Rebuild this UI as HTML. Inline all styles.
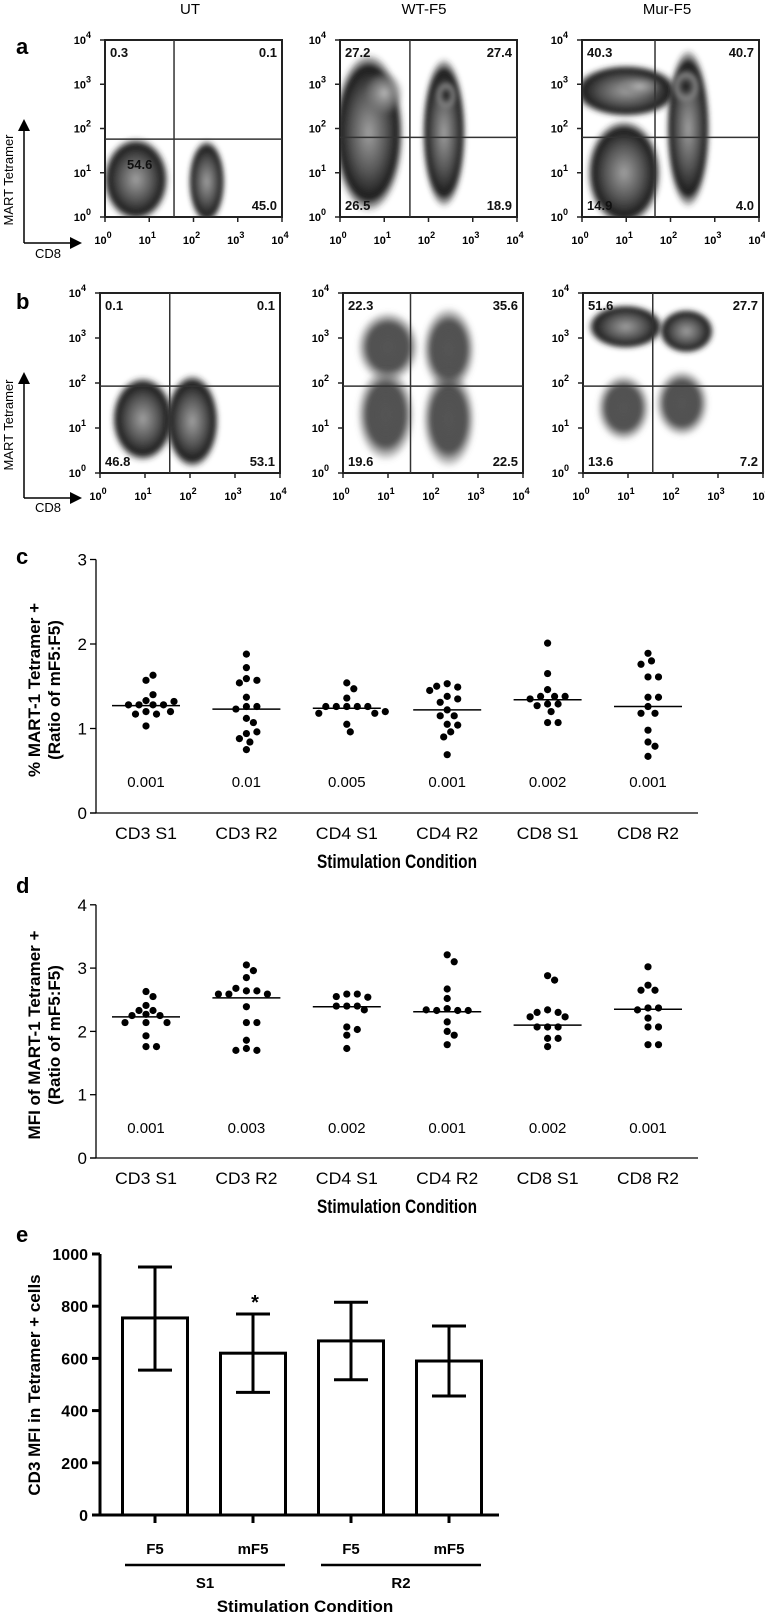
<!DOCTYPE html>
<html><head><meta charset="utf-8"><style>
html,body{margin:0;padding:0;background:#fff}
svg{display:block}
text{font-family:"Liberation Sans",Arial,sans-serif}
</style></head><body>
<svg id="fig" xmlns="http://www.w3.org/2000/svg" width="765" height="1619" viewBox="0 0 765 1619">
<defs>
<filter id="blur" x="-50%" y="-50%" width="200%" height="200%"><feGaussianBlur stdDeviation="2.5"/></filter>
<radialGradient id="gBlob"><stop offset="0" stop-color="#a0a0a0"/><stop offset="0.5" stop-color="#555"/><stop offset="0.82" stop-color="#1a1a1a"/><stop offset="1" stop-color="#333" stop-opacity="0"/></radialGradient>
<radialGradient id="gCore"><stop offset="0" stop-color="#111"/><stop offset="0.4" stop-color="#444"/><stop offset="0.7" stop-color="#888"/><stop offset="1" stop-color="#888" stop-opacity="0"/></radialGradient>
<radialGradient id="gLight"><stop offset="0" stop-color="#bbb"/><stop offset="0.6" stop-color="#888" stop-opacity="0.7"/><stop offset="1" stop-color="#888" stop-opacity="0"/></radialGradient>
<radialGradient id="gDiffuse"><stop offset="0" stop-color="#555"/><stop offset="0.65" stop-color="#333" stop-opacity="0.85"/><stop offset="1" stop-color="#666" stop-opacity="0"/></radialGradient>
</defs>
<g id="flow"></g>
<g id="pc"></g>
<g id="pd"></g>
<g id="pe"></g>
</svg>
<script>
// ---------- data ----------
const flowColumns = ["UT","WT-F5","Mur-F5"];
const flowQuadA = [["0.3","0.1","54.6","45.0"],["27.2","27.4","26.5","18.9"],["40.3","40.7","14.9","4.0"]];
const flowQuadB = [["0.1","0.1","46.8","53.1"],["22.3","35.6","19.6","22.5"],["51.6","27.7","13.6","7.2"]];
const gateA = [[1.56,1.76],[1.58,1.8],[1.65,1.8]];
const gateB = [[1.55,1.93],[1.5,1.93],[1.55,1.93]];
// blobs: [xDecade, yDecade, rx, ry, type]
const blobsA = [
 [[0.7,0.85,0.75,0.95,"gBlob"],[2.3,0.8,0.42,0.95,"gBlob"]],
 [[0.65,1.9,0.8,1.8,"gBlob"],[1.0,2.8,0.45,0.5,"gLight"],[2.35,1.9,0.5,1.7,"gBlob"],[2.4,2.75,0.24,0.32,"gCore"]],
 [[1.0,2.85,1.2,0.6,"gBlob"],[1.3,2.95,0.5,0.22,"gLight"],[0.95,1.0,0.85,1.2,"gBlob"],[2.4,2.0,0.5,1.8,"gBlob"],[2.35,2.95,0.32,0.38,"gCore"]]
];
const blobsB = [
 [[0.95,1.2,0.7,0.95,"gBlob"],[2.05,1.15,0.6,1.05,"gBlob"]],
 [[1.0,2.8,0.7,0.8,"gDiffuse"],[0.95,1.3,0.65,1.05,"gDiffuse"],[2.35,2.75,0.6,0.95,"gDiffuse"],[2.35,1.2,0.6,1.1,"gDiffuse"]],
 [[0.95,3.25,0.85,0.5,"gBlob"],[2.3,3.15,0.62,0.5,"gBlob"],[0.9,1.45,0.6,0.75,"gDiffuse"],[2.2,1.55,0.6,0.75,"gDiffuse"]]
];

const catLabels = ["CD3 S1","CD3 R2","CD4 S1","CD4 R2","CD8 S1","CD8 R2"];
const cTicks = [0,1,2,3];
const cPvals = ["0.001","0.01","0.005","0.001","0.002","0.001"];
const cMedians = [1.27,1.23,1.24,1.22,1.34,1.26];
const cCD3S1 = [1.33,1.28,1.28,1.40,1.28,1.28,1.32,1.20,1.17,1.17,1.20,1.57,1.63,1.03];
const cCD3R2 = [1.88,1.72,1.59,1.57,1.54,1.37,1.26,1.26,1.23,1.12,1.07,0.94,0.96,0.88,0.84,0.75];
const cCD4S1 = [1.54,1.47,1.36,1.26,1.26,1.26,1.26,1.26,1.18,1.18,1.20,1.05,0.96];
const cCD4R2 = [1.53,1.49,1.50,1.45,1.38,1.35,1.31,1.22,1.15,1.15,1.05,1.04,0.96,0.90,0.69];
const cCD8S1 = [2.01,1.65,1.46,1.38,1.38,1.38,1.35,1.29,1.29,1.27,1.20,1.07,1.07];
const cCD8R2 = [1.89,1.80,1.76,1.61,1.61,1.37,1.37,1.26,1.18,1.18,0.98,0.84,0.79,0.67];

const dTicks = [0,1,2,3,4];
const dPvals = ["0.001","0.003","0.002","0.001","0.002","0.001"];
const dMedians = [2.23,2.53,2.39,2.31,2.10,2.35];
const dCD3S1 = [2.63,2.55,2.41,2.33,2.33,2.27,2.25,2.25,2.14,2.14,2.14,1.93,1.76,1.76];
const dCD3R2 = [3.05,2.96,2.85,2.64,2.64,2.68,2.59,2.59,2.59,2.39,2.14,2.14,1.86,1.73,1.70,1.70];
const dCD4S1 = [2.59,2.59,2.55,2.54,2.40,2.40,2.40,2.34,2.07,2.03,1.94,1.73];
const dCD4R2 = [3.21,3.10,2.67,2.52,2.36,2.33,2.33,2.33,2.34,2.15,2.00,1.94,1.79];
const dCD8S1 = [2.88,2.81,2.34,2.30,2.30,2.23,2.23,2.07,2.07,2.07,1.89,1.89,1.76];
const dCD8R2 = [3.02,2.73,2.65,2.65,2.37,2.37,2.34,2.21,2.07,2.07,1.79,1.79];

const eLabels = ["F5","mF5","F5","mF5"];
const eGroups = ["S1","R2"];
const eMeans = [755,620,667,590];
const eUpper = [950,770,815,724];
const eLower = [555,470,518,456];
const eTicks = [0,200,400,600,800,1000];
const eStars = ["","*","",""];

// ---------- helpers ----------
const NS="http://www.w3.org/2000/svg";
function mk(tag,attrs,parent,txt){const e=document.createElementNS(NS,tag);for(const k in attrs)e.setAttribute(k,attrs[k]);if(txt!==undefined)e.textContent=txt;parent.appendChild(e);return e;}

// ---------- flow panels ----------
const flow=document.getElementById('flow');
function flowPlot(x0,y0,size,quads,gate,blobs,name){
  const g=mk('g',{},flow);
  
  
  const dec=size/4;
  const sx=v=>x0+v*dec, sy=v=>y0+size-v*dec;
  const clipId='clip'+name;
  const cp=mk('clipPath',{id:clipId},g);
  mk('rect',{x:x0,y:y0,width:size,height:size},cp);
  const bg=mk('g',{'clip-path':'url(#'+clipId+')'},g);
  blobs.forEach(b=>{
    const el=mk('ellipse',{cx:sx(b[0]),cy:sy(b[1]),rx:b[2]*dec,ry:b[3]*dec,fill:'url(#'+b[4]+')',filter:'url(#blur)'},bg);
    
    
  });
  const box=mk('rect',{x:x0,y:y0,width:size,height:size,fill:'none',stroke:'#222','stroke-width':2},g);
  
  
  const vl=mk('line',{x1:sx(gate[0]),x2:sx(gate[0]),y1:y0,y2:y0+size,stroke:'#333','stroke-width':1.5},g);
  
  
  const hl=mk('line',{x1:x0,x2:x0+size,y1:sy(gate[1]),y2:sy(gate[1]),stroke:'#333','stroke-width':1.5},g);
  
  
  for(let i=0;i<=4;i++){
    mk('line',{x1:sx(i),x2:sx(i),y1:y0+size,y2:y0+size+5,stroke:'#222','stroke-width':1.5},g);
    mk('line',{x1:x0-5,x2:x0,y1:sy(i),y2:sy(i),stroke:'#222','stroke-width':1.5},g);
    const xt=mk('text',{x:sx(i)-2,y:y0+size+27,'font-size':11,'font-weight':'bold','text-anchor':'middle'},g,'10');
    mk('tspan',{dy:-6,'font-size':9},xt,String(i));
    
    
    const yt=mk('text',{x:x0-14,y:sy(i)+4,'font-size':11,'font-weight':'bold','text-anchor':'end'},g,'10');
    mk('tspan',{dy:-6,'font-size':9},yt,String(i));
    
    
  }
  const pos=[[x0+5,y0+17,'start'],[x0+size-5,y0+17,'end'],[x0+5,y0+size-7,'start'],[x0+size-5,y0+size-7,'end']];
  quads.forEach((q,i)=>{
    const t=mk('text',{x:pos[i][0],y:pos[i][1],'font-size':13,'font-weight':'bold','text-anchor':pos[i][2],fill:'#111'},g,q);
    if(i===2&&name.indexOf('a-UT')>=0){t.setAttribute('x',x0+22);t.setAttribute('y',y0+size-48);}
    
    
  });
}
const colXA=[105,340,582], colXB=[100,343,583];
flowColumns.forEach((c,i)=>{
  const t=mk('text',{x:[190,424,667][i],y:14,'font-size':15,'text-anchor':'middle'},flow,c);
  
  
  flowPlot(colXA[i],40,177,flowQuadA[i],gateA[i],blobsA[i],'flow-plot-a-'+c);
  flowPlot(colXB[i],293,180,flowQuadB[i],gateB[i],blobsB[i],'flow-plot-b-'+c);
});
function axisArrow(yTop,yBot,labelY,cd8Y){
  mk('line',{x1:24,x2:24,y1:yTop+8,y2:yBot,stroke:'#000','stroke-width':1.5},flow);
  mk('polygon',{points:`18,${yTop+10} 30,${yTop+10} 24,${yTop-2}`,fill:'#000'},flow);
  mk('line',{x1:24,x2:72,y1:yBot,y2:yBot,stroke:'#000','stroke-width':1.5},flow);
  mk('polygon',{points:`70,${yBot-6} 70,${yBot+6} 82,${yBot}`,fill:'#000'},flow);
  const mt=mk('text',{x:0,y:0,'font-size':13,'text-anchor':'middle',transform:`translate(13,${labelY}) rotate(-90)`},flow,'MART Tetramer');
  
  
  const ct=mk('text',{x:48,y:cd8Y,'font-size':13,'text-anchor':'middle'},flow,'CD8');
  
  
}
axisArrow(121,243,180,258);
axisArrow(374,498,425,512);
[['a',45],['b',300],['c',555],['d',884],['e',1233]].forEach(p=>{
  const t=mk('text',{x:16,y:p[1]+9,'font-size':22,'font-weight':'bold'},document.getElementById('fig'),p[0]);
  
  
});

// ---------- dot plots ----------
function dotPlot(gid,y0,unit,ticks,series,medians,pvals,pY,title1,title2,titleY){
  const g=document.getElementById(gid);
  const ax=96, axEnd=698;
  const sy=v=>y0-v*unit;
  const cx=i=>146+i*100.4;
  const yl=mk('line',{x1:ax,x2:ax,y1:sy(ticks[ticks.length-1]),y2:y0,stroke:'#000','stroke-width':1.3},g);
  
  
  const xl=mk('line',{x1:ax-6,x2:axEnd,y1:y0,y2:y0,stroke:'#000','stroke-width':1.3},g);
  
  
  ticks.forEach(t=>{
    mk('line',{x1:ax-6,x2:ax,y1:sy(t),y2:sy(t),stroke:'#000','stroke-width':1.3},g);
    const tl=mk('text',{x:ax-9,y:sy(t)+6,'font-size':17,'text-anchor':'end'},g,String(t));
    
    
  });
  catLabels.forEach((c,i)=>{
    const tl=mk('text',{x:cx(i),y:y0+26,'font-size':17,'text-anchor':'middle',textLength:62,lengthAdjust:'spacingAndGlyphs'},g,c);
    
    
    const pv=mk('text',{x:cx(i),y:pY,'font-size':15,'text-anchor':'middle'},g,pvals[i]);
    
    
    const ml=mk('line',{x1:cx(i)-34,x2:cx(i)+34,y1:sy(medians[i]),y2:sy(medians[i]),stroke:'#000','stroke-width':1.5},g);
    
    
    // beeswarm
    const r=3.6, placed=[];
    series[i].forEach(v=>{
      const y=sy(v); let off=0;
      for(let k=0;k<40;k++){
        const cand=(k%2?1:-1)*Math.ceil(k/2)*3.5*(k===0?0:1);
        if(placed.every(p=>Math.hypot(p[0]-cand,p[1]-y)>=2*r+0.6)){off=cand;break;}
      }
      placed.push([off,y]);
      const d=mk('circle',{cx:cx(i)+off,cy:y,r:r,fill:'#000'},g);
      
      
    });
  });
  const xt=mk('text',{x:397,y:y0+55,'font-size':19,'font-weight':'bold','text-anchor':'middle',textLength:160,lengthAdjust:'spacingAndGlyphs'},g,'Stimulation Condition');
  
  
  const yt=mk('text',{x:0,y:0,'font-size':17,'font-weight':'bold','text-anchor':'middle',transform:`translate(0,${titleY}) rotate(-90)`},g);
  mk('tspan',{x:0,y:40},yt,title1);
  mk('tspan',{x:0,y:60},yt,title2);
  
  
}
dotPlot('pc',813,84.5,cTicks,[cCD3S1,cCD3R2,cCD4S1,cCD4R2,cCD8S1,cCD8R2],cMedians,cPvals,787,'% MART-1 Tetramer +','(Ratio of mF5:F5)',690);
dotPlot('pd',1158,63.3,dTicks,[dCD3S1,dCD3R2,dCD4S1,dCD4R2,dCD8S1,dCD8R2],dMedians,dPvals,1133,'MFI of MART-1 Tetramer +','(Ratio of mF5:F5)',1035);

// ---------- bar chart e ----------
(function(){
  const g=document.getElementById('pe');
  const y0=1515, top=1254, ax=100;
  const sy=v=>y0-(v/1000)*(y0-top);
  const cx=i=>155+i*98;
  const bw=65;
  eMeans.forEach((m,i)=>{
    const b=mk('rect',{x:cx(i)-bw/2,y:sy(m),width:bw,height:y0-sy(m),fill:'#fff',stroke:'#000','stroke-width':3},g);
    
    
    const e=mk('path',{d:`M${cx(i)},${sy(eLower[i])}V${sy(eUpper[i])}M${cx(i)-17},${sy(eUpper[i])}h34M${cx(i)-17},${sy(eLower[i])}h34`,stroke:'#000','stroke-width':3,fill:'none'},g);
    
    
    mk('line',{x1:cx(i),x2:cx(i),y1:y0,y2:y0+8,stroke:'#000','stroke-width':3},g);
    const l=mk('text',{x:cx(i),y:y0+39,'font-size':15,'font-weight':'bold','text-anchor':'middle'},g,eLabels[i]);
    
    
    if(eStars[i]){
      const s=mk('text',{x:cx(i)+2,y:sy(eUpper[i])-5,'font-size':20,'font-weight':'bold','text-anchor':'middle'},g,eStars[i]);
      
      
    }
  });
  const yl=mk('line',{x1:ax,x2:ax,y1:top,y2:y0,stroke:'#000','stroke-width':3},g);
  
  
  const xl=mk('line',{x1:ax-8,x2:499,y1:y0,y2:y0,stroke:'#000','stroke-width':3},g);
  
  
  eTicks.forEach(t=>{
    mk('line',{x1:ax-8,x2:ax,y1:sy(t),y2:sy(t),stroke:'#000','stroke-width':3},g);
    const tl=mk('text',{x:ax-12,y:sy(t)+6,'font-size':16,'font-weight':'bold','text-anchor':'end'},g,String(t));
    
    
  });
  eGroups.forEach((gr,j)=>{
    const a=cx(2*j)-30, b=cx(2*j+1)+32;
    mk('line',{x1:a,x2:b,y1:1565,y2:1565,stroke:'#000','stroke-width':2.5},g);
    const t=mk('text',{x:(a+b)/2,y:1588,'font-size':15,'font-weight':'bold','text-anchor':'middle'},g,gr);
    
    
  });
  const xt=mk('text',{x:305,y:1612,'font-size':17,'font-weight':'bold','text-anchor':'middle'},g,'Stimulation Condition');
  
  
  const yt=mk('text',{x:0,y:0,'font-size':17,'font-weight':'bold','text-anchor':'middle',transform:'translate(40,1385) rotate(-90)'},g,'CD3 MFI in Tetramer + cells');
  
  
})();
</script>
</body></html>
